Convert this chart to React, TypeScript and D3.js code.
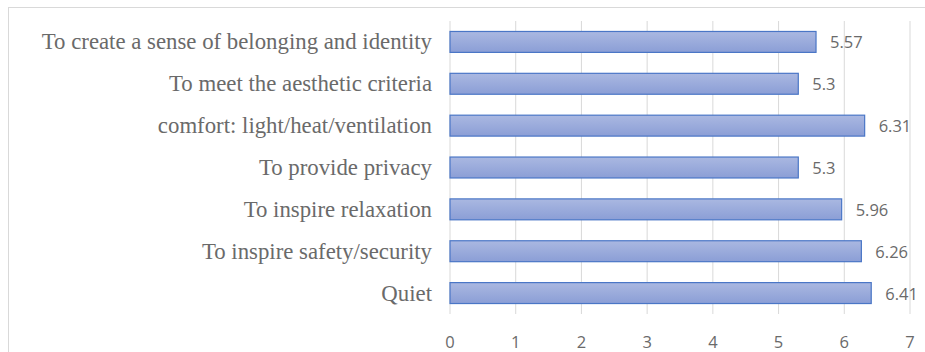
import React from "react";
import * as d3 from "d3";

const categories = [
  "To create a sense of belonging and identity",
  "To meet the aesthetic criteria",
  "comfort: light/heat/ventilation",
  "To provide privacy",
  "To inspire relaxation",
  "To inspire safety/security",
  "Quiet",
];
const values = [5.57, 5.3, 6.31, 5.3, 5.96, 6.26, 6.41];
const valueLabels = ["5.57", "5.3", "6.31", "5.3", "5.96", "6.26", "6.41"];
const xTicks = [0, 1, 2, 3, 4, 5, 6, 7];

const W = 925;
const H = 352;
const plot = { left: 450, right: 910, top: 21, bottom: 314 };

export default function App() {
  const x = d3.scaleLinear().domain([0, 7]).range([plot.left, plot.right]);
  const y = d3
    .scaleBand<string>()
    .domain(categories)
    .range([plot.top, plot.bottom])
    .paddingInner(0.5)
    .paddingOuter(0.25);

  const sans = "'Open Sans', 'Liberation Sans', sans-serif";
  const textColor = "#6a6a6a";

  return (
    <svg
      width={W}
      height={H}
      style={{ position: "absolute", left: 0, top: 0, display: "block" }}
    >
      <defs>
        <linearGradient id="barFill" x1="0" y1="0" x2="0" y2="1">
          <stop offset="0%" stopColor="#aab8e1" />
          <stop offset="100%" stopColor="#8b9ed6" />
        </linearGradient>
      </defs>
      <rect width={W} height={H} fill="#ffffff" />
      {/* chart frame */}
      <rect x={8.5} y={7.5} width={W + 10} height={H + 10} fill="none" stroke="#d9d9d9" />
      {/* vertical gridlines */}
      {xTicks.slice(1).map((t) => (
        <line
          key={"g" + t}
          x1={x(t)}
          x2={x(t)}
          y1={plot.top}
          y2={plot.bottom}
          stroke="#d9d9d9"
          strokeWidth={1}
        />
      ))}
      {/* category axis */}
      <line x1={plot.left} x2={plot.left} y1={plot.top} y2={plot.bottom} stroke="#d9d9d9" />
      {/* bars */}
      {categories.map((c, i) => (
        <rect
          key={c}
          x={x(0)}
          y={y(c)!}
          width={x(values[i]) - x(0)}
          height={y.bandwidth()}
          fill="url(#barFill)"
          stroke="#4a76c6"
          strokeWidth={1.2}
        />
      ))}
      {/* category labels */}
      {categories.map((c) => (
        <text
          key={"l" + c}
          x={432}
          y={y(c)! + y.bandwidth() / 2}
          textAnchor="end"
          dominantBaseline="central"
          fontFamily="'Liberation Serif', 'Times New Roman', serif"
          fontSize={22.8}
          fill={textColor}
        >
          {c}
        </text>
      ))}
      {/* value labels */}
      {categories.map((c, i) => (
        <text
          key={"v" + c}
          x={x(values[i]) + 14}
          y={y(c)! + y.bandwidth() / 2}
          dominantBaseline="central"
          fontFamily={sans}
          fontSize={16.5}
          fill={textColor}
        >
          {valueLabels[i]}
        </text>
      ))}
      {/* x tick labels */}
      {xTicks.map((t) => (
        <text
          key={"t" + t}
          x={x(t)}
          y={341}
          textAnchor="middle"
          dominantBaseline="central"
          fontFamily={sans}
          fontSize={16.5}
          fill={textColor}
        >
          {t}
        </text>
      ))}
    </svg>
  );
}
